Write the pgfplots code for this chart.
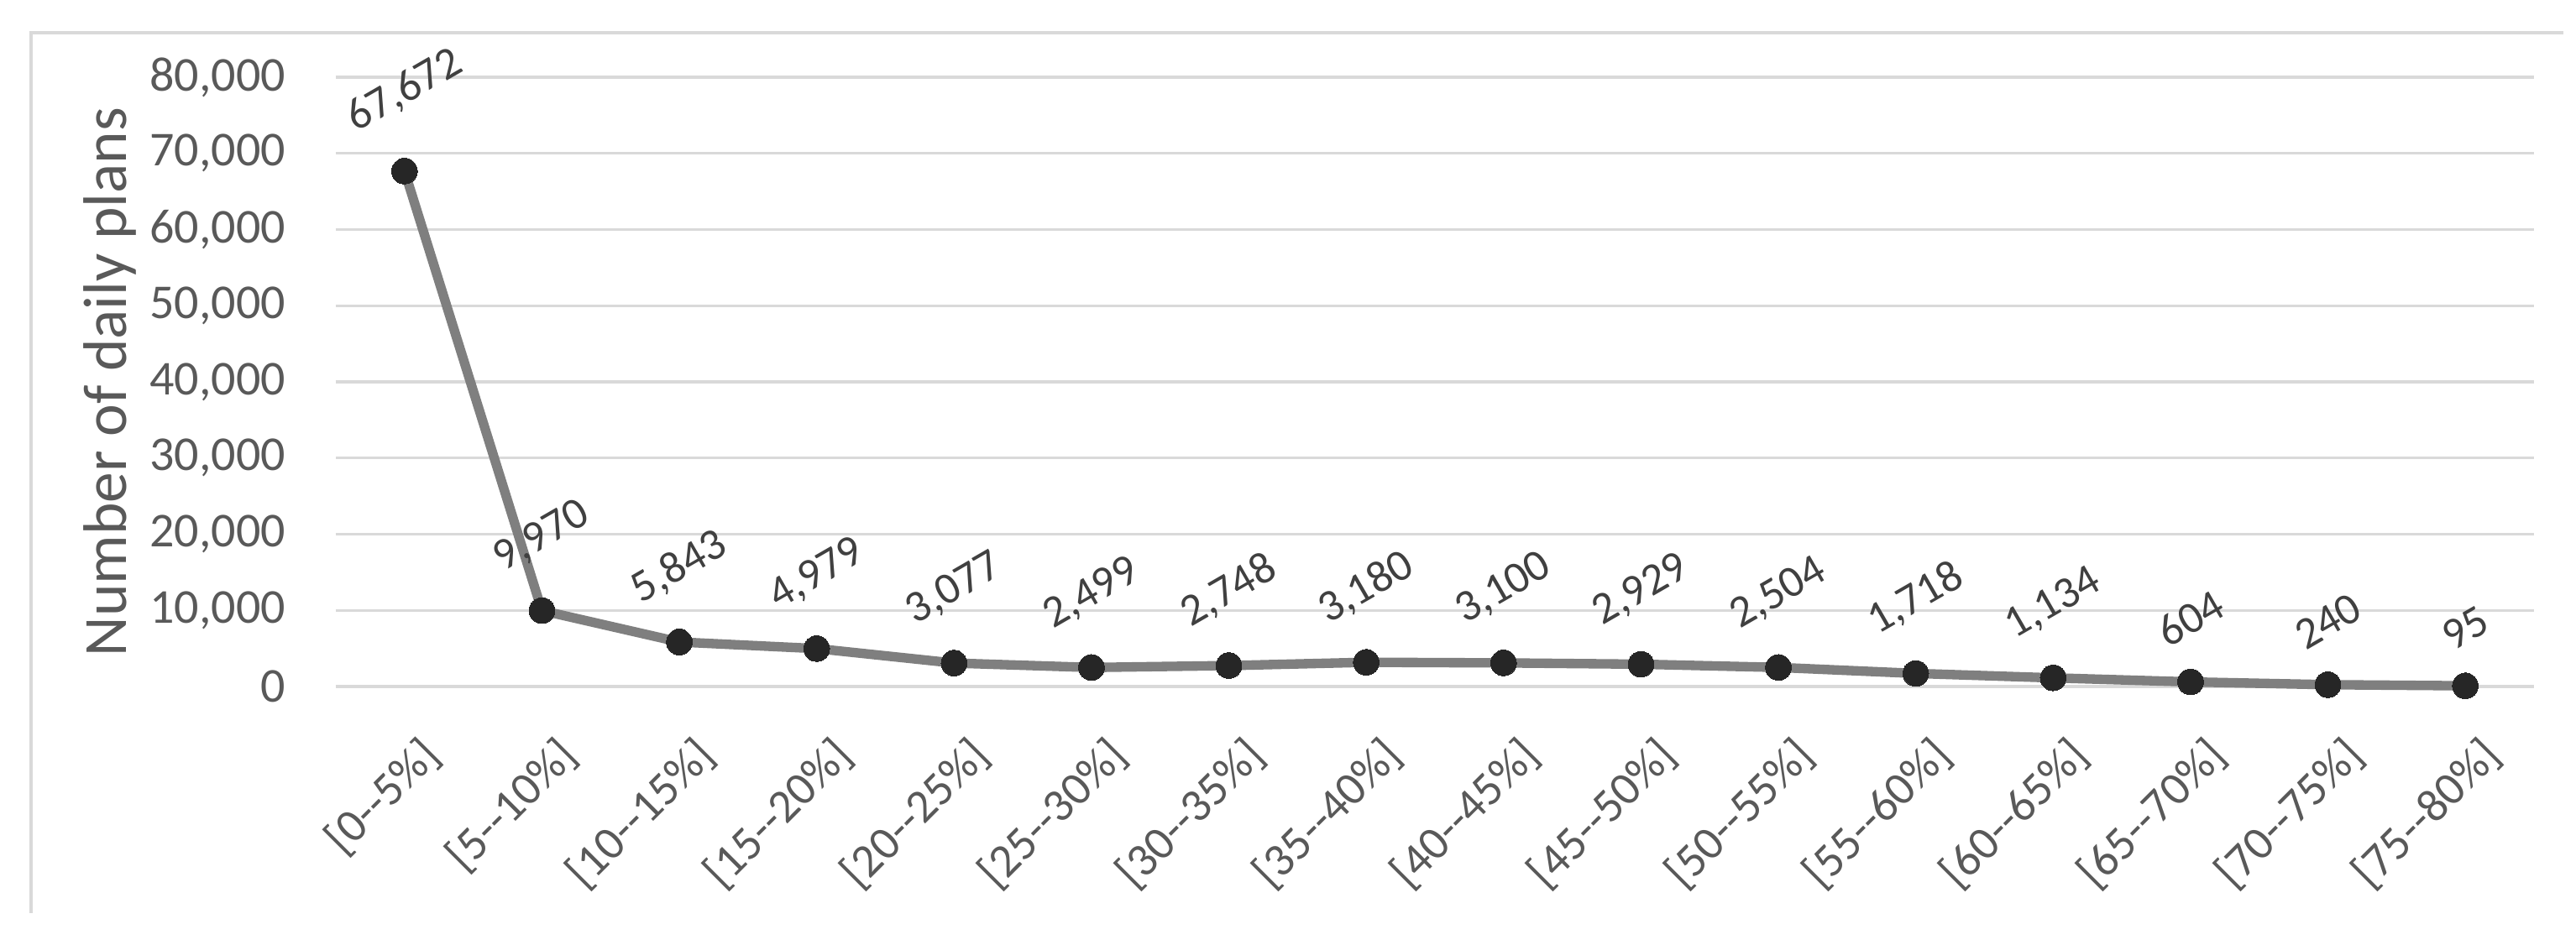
\documentclass[border=0pt]{standalone}
\usepackage{pgfplots}
\pgfplotsset{compat=1.18}
\usepackage{fontspec}
\setmainfont{Carlito}[Ligatures=TeXOff]
\definecolor{txt}{HTML}{595959}
\definecolor{lbl}{HTML}{404040}
\definecolor{gridc}{HTML}{D9D9D9}
\definecolor{ln}{HTML}{7F7F7F}
\definecolor{mk}{HTML}{262626}

\begin{document}
\begin{tikzpicture}
\useasboundingbox (-60pt,-46.05pt) rectangle (400.2pt,122.7pt);
% chart frame (only top and left edges show)
\draw[gridc, line width=0.5pt] (-54.45pt,-40.5pt) -- (-54.45pt,116.85pt) -- (397.9pt,116.85pt);
\begin{axis}[
    at={(0,0)}, anchor=south west,
    scale only axis, width=392.7pt, height=108.9pt,
    xmin=-0.5, xmax=15.5, ymin=0, ymax=80000,
    xtick={0,...,15},
    xticklabels={{[0--5\%]},{[5--10\%]},{[10--15\%]},{[15--20\%]},{[20--25\%]},{[25--30\%]},{[30--35\%]},{[35--40\%]},{[40--45\%]},{[45--50\%]},{[50--55\%]},{[55--60\%]},{[60--65\%]},{[65--70\%]},{[70--75\%]},{[75--80\%]}},
    ytick={0,10000,...,80000},
    scaled y ticks=false,
    ymajorgrids,
    major grid style={gridc, line width=0.5pt},
    axis line style={draw=none},
    major tick length=0pt,
    clip=false,
    /pgf/number format/1000 sep={,},
    /pgf/number format/assume math mode=true,
    tick label style={text=txt},
    yticklabel style={font=\fontsize{8.7}{10}\selectfont, anchor=east, inner sep=0pt, xshift=-8.8pt},
    xticklabel style={font=\fontsize{8.4}{10}\selectfont, inner sep=0pt, xshift=2.4pt, yshift=-8.2pt,
        rotate=45, anchor=north east},
    every axis y label/.style={at={(axis description cs:-0.1026,0.5)}, rotate=90, anchor=center,
        font=\fontsize{11}{13}\selectfont, text=txt},
    ylabel={Number of daily plans},
    nodes near coords={\rotatebox{30}{\pgfmathprintnumber{\pgfplotspointmeta}}},
    every node near coord/.style={anchor=south, inner sep=0pt, yshift=6pt,
        font=\fontsize{8}{10}\selectfont, text=lbl},
]
\addplot[ln, line width=1.7pt, mark=*, mark size=2.3pt,
    mark options={draw=mk, fill=mk, line width=0pt}, point meta=y] coordinates {
    (0,67672) (1,9970) (2,5843) (3,4979) (4,3077) (5,2499) (6,2748) (7,3180)
    (8,3100) (9,2929) (10,2504) (11,1718) (12,1134) (13,604) (14,240) (15,95)
};
\end{axis}
\end{tikzpicture}
\end{document}
